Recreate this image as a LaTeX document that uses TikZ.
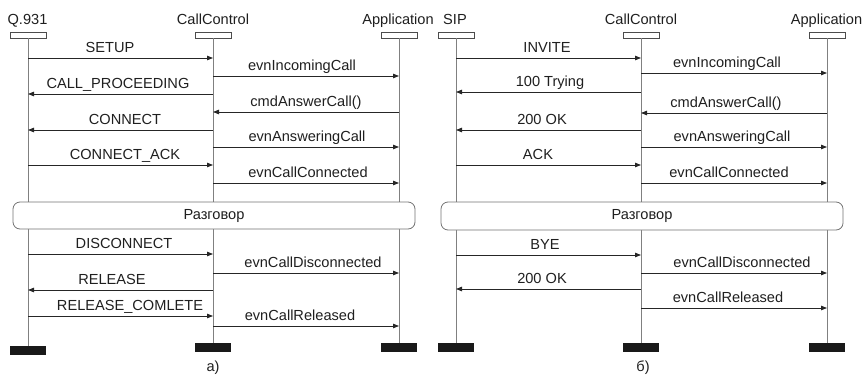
\documentclass[tikz,border=0pt]{standalone}
\usepackage{fontspec}
\setmainfont{Liberation Sans}
\usetikzlibrary{arrows.meta}
\newcommand\seqmsg[6]{%
  \path (#1 |- 0,#3) coordinate (#6s) (#2 |- 0,#3) coordinate (#6e);
  \draw[msgline] (#6s) -- (#6e);
  \node[lbl] (#6l) at (#5,#3-5.5) {#4};
}
\begin{document}
\begin{tikzpicture}[x=1pt,y=-1pt,
  lbl/.style={font=\fontsize{14.6}{16}\selectfont, text=black!88, inner sep=0pt, anchor=base},
  captext/.style={font=\fontsize{14.6}{16}\selectfont, text=black!88, inner sep=0pt},
  life/.style={draw=black!50, line width=0.9pt},
  msgline/.style={draw=black!85, line width=0.8pt, -{Triangle[length=6pt,width=4.5pt]}},
  headbox/.style={draw=black!70, line width=0.8pt, fill=white, minimum width=36pt, minimum height=6pt, inner sep=0pt},
  endbox/.style={fill=black!90, minimum width=36pt, minimum height=9pt, inner sep=0pt},
  phase/.style={draw=black!55, line width=0.8pt, rounded corners=7pt, fill=white, inner sep=0pt, font=\fontsize{14.6}{16}\selectfont, text=black!88}
]
\useasboundingbox (0,0) rectangle (866,375);

% ---------- panel a ----------
\node[lbl] (tq) at (27.5,24) {Q.931};
\node[lbl] (tc1) at (213,24) {CallControl};
\node[lbl] (ta1) at (398,24) {Application};
\node[headbox] (hq) at (28,35) {};
\node[headbox] (hc1) at (213,35) {};
\node[headbox] (ha1) at (399,35) {};
\node[endbox] (eq) at (28,350.5) {};
\node[endbox] (ec1) at (213,347.5) {};
\node[endbox] (ea1) at (399,347.5) {};
\draw[life] (hq.south) -- (eq.north);
\draw[life] (hc1.south) -- (ec1.north);
\draw[life] (ha1.south) -- (ea1.north);

\seqmsg{hq}{hc1}{58}{SETUP}{110}{a1}
\seqmsg{hc1}{ha1}{76}{evnIncomingCall}{302}{a2}
\seqmsg{hc1}{hq}{94}{CALL\_PROCEEDING}{118}{a3}
\seqmsg{ha1}{hc1}{112}{cmdAnswerCall()}{306}{a4}
\seqmsg{hc1}{hq}{130}{CONNECT}{125}{a5}
\seqmsg{hc1}{ha1}{147}{evnAnsweringCall}{307}{a6}
\seqmsg{hq}{hc1}{165}{CONNECT\_ACK}{125}{a7}
\seqmsg{hc1}{ha1}{183}{evnCallConnected}{308}{a8}

\node[phase, minimum width=402pt, minimum height=27pt] (talk1) at (214,215.5) {Разговор};

\seqmsg{hq}{hc1}{254}{DISCONNECT}{124}{a9}
\seqmsg{hc1}{ha1}{273}{evnCallDisconnected}{313}{a10}
\seqmsg{hc1}{hq}{290}{RELEASE}{112}{a11}
\seqmsg{hq}{hc1}{316}{RELEASE\_COMLETE}{130}{a12}
\seqmsg{hc1}{ha1}{326}{evnCallReleased}{300}{a13}

\node[captext] (capa) at (213,368) {а)};

% ---------- panel b ----------
\node[lbl] (ts) at (455,24) {SIP};
\node[lbl] (tc2) at (641,24) {CallControl};
\node[lbl] (ta2) at (826.5,24) {Application};
\node[headbox] (hs) at (456,35) {};
\node[headbox] (hc2) at (641,35) {};
\node[headbox] (ha2) at (827,35) {};
\node[endbox] (es) at (456,347.5) {};
\node[endbox] (ec2) at (641,347.5) {};
\node[endbox] (ea2) at (827,347.5) {};
\draw[life] (hs.south) -- (es.north);
\draw[life] (hc2.south) -- (ec2.north);
\draw[life] (ha2.south) -- (ea2.north);

\seqmsg{hs}{hc2}{58}{INVITE}{547}{b1}
\seqmsg{hc2}{ha2}{73}{evnIncomingCall}{727}{b2}
\seqmsg{hc2}{hs}{92}{100 Trying}{550}{b3}
\seqmsg{ha2}{hc2}{113}{cmdAnswerCall()}{726}{b4}
\seqmsg{hc2}{hs}{130}{200 OK}{542}{b5}
\seqmsg{hc2}{ha2}{147}{evnAnsweringCall}{732}{b6}
\seqmsg{hs}{hc2}{165}{ACK}{538}{b7}
\seqmsg{hc2}{ha2}{183}{evnCallConnected}{729}{b8}

\node[phase, minimum width=402pt, minimum height=28pt] (talk2) at (642,216) {Разговор};

\seqmsg{hs}{hc2}{255}{BYE}{545}{b9}
\seqmsg{hc2}{ha2}{273}{evnCallDisconnected}{742}{b10}
\seqmsg{hc2}{hs}{289}{200 OK}{542}{b11}
\seqmsg{hc2}{ha2}{308}{evnCallReleased}{728}{b12}

\node[captext] (capb) at (643,368) {б)};
\end{tikzpicture}
\end{document}
